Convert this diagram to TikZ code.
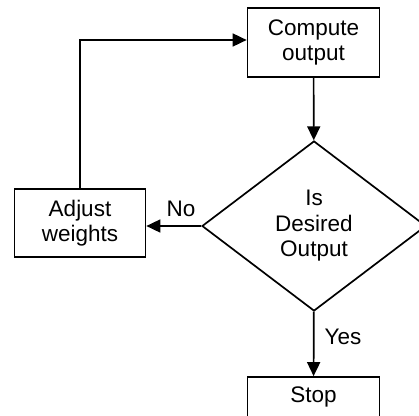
\documentclass[tikz,border=0pt]{standalone}
\usepackage{fontspec}
\setmainfont{Liberation Sans}
\usetikzlibrary{shapes.geometric,arrows.meta}
\begin{document}
\begin{tikzpicture}[x=1pt,y=-1pt,
  every node/.style={font=\fontsize{22.5}{25.5}\selectfont, text=black},
  procbox/.style={draw, line width=1.7pt, minimum width=132pt, minimum height=69pt, inner sep=0pt, align=center},
  decide/.style={draw, diamond, line width=1.7pt, minimum width=224pt, minimum height=170pt, inner sep=0pt, align=center},
  flow/.style={line width=1.7pt, -{Triangle[length=14pt,width=13pt]}},
  lbl/.style={inner sep=0pt}
]
\useasboundingbox (0,0) rectangle (419,415);
\node[procbox] (comp) at (313.5,42.5) {Compute\\output};
\node[decide] (dia) at (314,226) {Is\\Desired\\Output};
\node[procbox, minimum width=131pt, minimum height=68pt] (adj) at (80,223) {Adjust\\weights};
\node[procbox] (stop) at (313.5,411.5) {Stop\\\strut};
\coordinate (corner) at (80,40);
\draw[flow] (comp) -- (dia);
\draw[flow] (dia.west) -- (dia.west -| adj.east);
\draw[flow] (dia) -- (stop);
\draw[flow] (adj.north) -- (corner) -- (comp.west |- corner);
\node[lbl] (no) at (181,209) {No};
\node[lbl] (yes) at (343,337) {Yes};
\end{tikzpicture}
\end{document}
